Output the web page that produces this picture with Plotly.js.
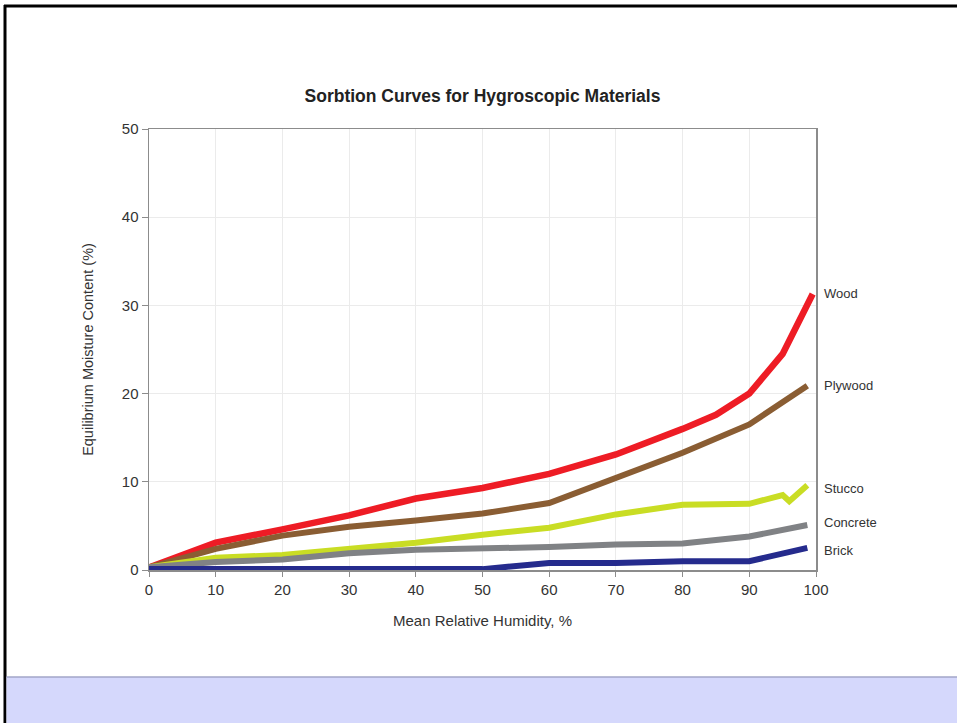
<!DOCTYPE html>
<html>
<head>
<meta charset="utf-8">
<script src="https://cdn.plot.ly/plotly-3.0.1.min.js"></script>
<style>
  html, body { margin: 0; padding: 0; background: #fff; }
  #chart { width: 957px; height: 723px; }
</style>
</head>
<body>
<div id="chart"></div>
<script>
// ---- data ----
const seriesNames = ["Wood", "Plywood", "Stucco", "Concrete", "Brick"];

const woodX = [0, 10, 20, 30, 40, 50, 60, 70, 80, 85, 90, 95, 99.5];
const woodY = [0.3, 3.1, 4.6, 6.2, 8.1, 9.3, 10.9, 13.1, 16.0, 17.6, 20.0, 24.5, 31.3];

const plywoodX = [0, 10, 20, 30, 40, 50, 60, 70, 80, 90, 98.7];
const plywoodY = [0.3, 2.4, 3.9, 4.9, 5.6, 6.4, 7.6, 10.4, 13.3, 16.5, 20.9];

const stuccoX = [0, 10, 20, 30, 40, 50, 60, 70, 80, 90, 95, 96, 98.7];
const stuccoY = [0.3, 1.4, 1.7, 2.4, 3.1, 4.0, 4.8, 6.3, 7.4, 7.5, 8.5, 7.8, 9.6];

const concreteX = [0, 10, 20, 30, 40, 50, 60, 70, 80, 90, 98.7];
const concreteY = [0.3, 0.9, 1.2, 1.9, 2.3, 2.4, 2.6, 2.9, 3.0, 3.8, 5.1];

const brickX = [0, 10, 20, 30, 40, 50, 60, 70, 80, 90, 98.7];
const brickY = [0.1, 0.1, 0.1, 0.1, 0.1, 0.1, 0.8, 0.8, 1.0, 1.0, 2.5];

const xTicks = [0, 10, 20, 30, 40, 50, 60, 70, 80, 90, 100];
const yTicks = [0, 10, 20, 30, 40, 50];

// ---- styles ----
const colors = ["#ee1c25", "#8a5d33", "#c9dd24", "#808285", "#252b8d"];
const widths = [6.5, 6, 6, 6, 6];
const xs = [woodX, plywoodX, stuccoX, concreteX, brickX];
const ys = [woodY, plywoodY, stuccoY, concreteY, brickY];
const labelShift = [0, 0, -3, 3, -3];

const W = 957, H = 723;
const M = { l: 149, r: 141, t: 129, b: 153 };
const pw = W - M.l - M.r, ph = H - M.t - M.b;
const px2x = px => (px - M.l) / pw;
const py2y = py => (H - M.b - py) / ph;

const FONT = "Liberation Sans, Arial, Helvetica, sans-serif";

const traces = seriesNames.map((n, i) => ({
  type: "scatter",
  mode: "lines",
  name: n,
  x: xs[i],
  y: ys[i],
  line: { color: colors[i], width: widths[i], shape: "linear" },
  cliponaxis: false,
  hoverinfo: "x+y+name"
}));

const annotations = seriesNames.map((n, i) => ({
  xref: "paper", yref: "y",
  x: px2x(822), y: ys[i][ys[i].length - 1],
  xanchor: "left", yanchor: "middle",
  yshift: labelShift[i],
  text: n, showarrow: false,
  font: { family: FONT, size: 13, color: "#333333" }
}));

const shapes = [
  { type: "line", xref: "paper", yref: "paper", x0: px2x(4), x1: px2x(960), y0: py2y(6), y1: py2y(6),
    line: { color: "#000000", width: 3 } },
  { type: "line", xref: "paper", yref: "paper", x0: px2x(5), x1: px2x(5), y0: py2y(5), y1: py2y(730),
    line: { color: "#000000", width: 3 } },
  { type: "rect", xref: "paper", yref: "paper", x0: px2x(6.5), x1: px2x(960), y0: py2y(677), y1: py2y(730),
    fillcolor: "#d5d8fc", line: { width: 0 }, layer: "above" },
  { type: "line", xref: "paper", yref: "paper", x0: px2x(6.5), x1: px2x(960), y0: py2y(677), y1: py2y(677),
    line: { color: "#a2a6c8", width: 1.5 } }
];

const layout = {
  width: W, height: H,
  margin: M,
  paper_bgcolor: "#ffffff",
  plot_bgcolor: "#ffffff",
  showlegend: false,
  title: {
    text: "<b>Sorbtion Curves for Hygroscopic Materials</b>",
    x: 0.5, xref: "paper", xanchor: "center",
    y: 1 - 96 / H, yref: "container", yanchor: "middle",
    font: { family: FONT, size: 17.5, color: "#222222" }
  },
  xaxis: {
    range: [0, 100],
    tickvals: xTicks,
    ticktext: xTicks.map(String),
    showgrid: true, gridcolor: "#ebebeb", gridwidth: 1,
    zeroline: false,
    showline: true, linecolor: "#8c8c8c", linewidth: 1.5, mirror: true,
    ticks: "outside", ticklen: 5, tickcolor: "#8c8c8c", tickwidth: 1,
    tickfont: { family: FONT, size: 15, color: "#333333" },
    title: { text: "Mean Relative Humidity, %", standoff: 19,
             font: { family: FONT, size: 15, color: "#333333" } },
    fixedrange: true
  },
  yaxis: {
    range: [0, 50],
    tickvals: yTicks,
    ticktext: yTicks.map(String),
    showgrid: true, gridcolor: "#ebebeb", gridwidth: 1,
    zeroline: false,
    showline: true, linecolor: "#8c8c8c", linewidth: 1.5, mirror: true,
    ticks: "outside", ticklen: 6, tickcolor: "#8c8c8c", tickwidth: 1,
    tickfont: { family: FONT, size: 15, color: "#333333" },
    title: { text: "Equilibrium Moisture Content (%)", standoff: 24,
             font: { family: FONT, size: 14.5, color: "#333333" } },
    fixedrange: true
  },
  annotations: annotations,
  shapes: shapes
};

Plotly.newPlot("chart", traces, layout, { displayModeBar: false, staticPlot: true });
</script>
</body>
</html>
